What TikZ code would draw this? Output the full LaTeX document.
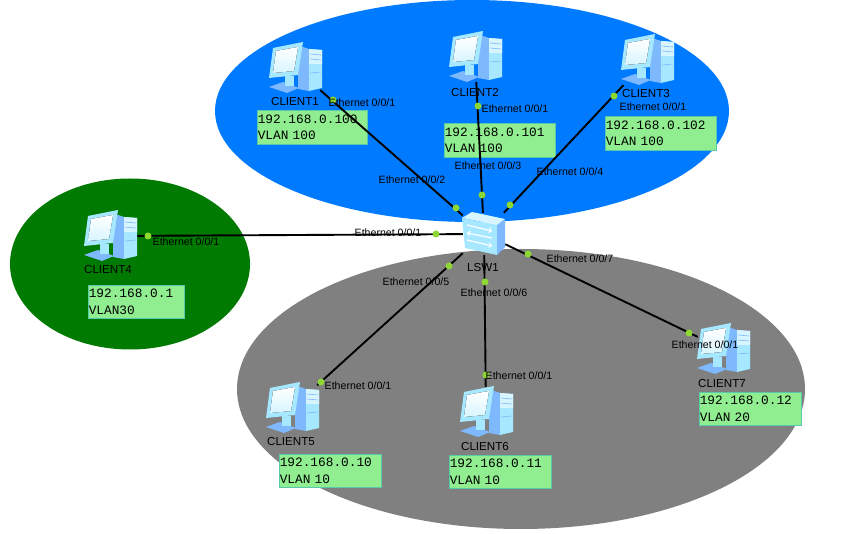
\documentclass[tikz,border=0pt]{standalone}
\usepackage{fontspec}
\setmainfont{Liberation Sans}
\setmonofont{Liberation Mono}
\usetikzlibrary{shapes.geometric,positioning}
\definecolor{vlanblue}{RGB}{0,122,255}
\definecolor{vlangreen}{RGB}{0,122,0}
\definecolor{vlangrey}{RGB}{128,128,128}
\definecolor{boxgreen}{RGB}{144,238,144}
\definecolor{boxedge}{RGB}{90,200,170}
\definecolor{portgreen}{RGB}{140,215,50}
\definecolor{iconlight}{RGB}{215,245,255}
\definecolor{iconmid}{RGB}{165,232,255}
\definecolor{icondark}{RGB}{125,185,252}
\tikzstyle{zone} = [ellipse, inner sep=0pt]
\tikzstyle{host} = [rectangle, minimum width=50pt, minimum height=50pt, inner sep=0pt]
\tikzstyle{switchbox} = [rectangle, minimum width=42pt, minimum height=42pt, inner sep=0pt]
\tikzstyle{hostname} = [font=\fontsize{11.6}{12}\selectfont, inner sep=0pt]
\tikzstyle{portname} = [font=\fontsize{10.6}{11}\selectfont, inner sep=0pt]
\tikzstyle{portdot} = [circle, fill=portgreen, minimum size=7pt, inner sep=0pt]
\tikzstyle{addr} = [rectangle, fill=boxgreen, draw=boxedge, line width=0.5pt, align=left, inner ysep=0pt, inner xsep=0.5pt, font=\ttfamily\fontsize{12.8}{16.5}\selectfont, anchor=north west]
\tikzstyle{line} = [draw, line width=1.9pt]
\tikzset{
  pc/.pic={
    \fill [icondark] (8,-21) -- (14,-19) -- (14,23) -- (3,21) -- (3,-20) -- cycle;
    \fill [iconmid] (14,-19) -- (27,-18) -- (27,20) -- (14,23) -- cycle;
    \fill [iconlight] (14,-19) -- (27,-18) -- (27,-4) -- (14,-4) -- cycle;
    \draw [icondark, line width=0.6pt] (15,-14) -- (26,-13) (15,-9) -- (26,-8) (15,5) -- (26,4);
    \fill [icondark] (-26,19) -- (-12,14) -- (4,20) -- (-8,25) -- cycle;
    \fill [iconmid] (-10,8) -- (-1,8) -- (-1,18) -- (-10,18) -- cycle;
    \fill [iconmid] (-22,-20) -- (8,-26) -- (3,7) -- (-26,10) -- cycle;
    \fill [shading=axis, top color=white, bottom color=iconlight] (-19,-17) -- (3,-21) -- (-1,3) -- (-22,5) -- cycle;
  },
  lswicon/.pic={
    \fill [iconlight] (-22,-16) -- (-12,-22) -- (21,-15) -- (13,-9) -- cycle;
    \fill [iconmid] (-22,-16) -- (13,-9) -- (13,21) -- (-19,14) -- cycle;
    \fill [icondark] (13,-9) -- (21,-15) -- (21,13) -- (13,21) -- cycle;
    \draw [white, line width=1.2pt, ->] (-17,-9) -- (8,-3);
    \draw [white, line width=1.2pt, <-] (-17,-1) -- (8,4);
    \draw [white, line width=1.2pt, ->] (-17,6) -- (8,12);
  }
}
\begin{document}
\begin{tikzpicture}[x=1pt, y=-1pt]
\useasboundingbox (0,0) rectangle (844,534);
\node [zone, fill=vlanblue, minimum width=514pt, minimum height=222pt] (vlan100) at (472,111) {};
\node [zone, fill=vlangreen, minimum width=240pt, minimum height=171pt] (vlan30) at (130,264) {};
\node [zone, fill=vlangrey, minimum width=568pt, minimum height=280pt] (vlan10) at (521,389) {};
\node [addr, text width=109pt, minimum height=34pt] (addr1) at (257,110) {192.168.0.100\\VLAN 100};
\node [addr, text width=110pt, minimum height=34pt] (addr2) at (444,123) {192.168.0.101\\VLAN 100};
\node [addr, text width=110pt, minimum height=34pt] (addr3) at (605,116) {192.168.0.102\\VLAN 100};
\node [addr, text width=95pt, minimum height=33pt] (addr4) at (88,285) {192.168.0.1\\VLAN30};
\node [addr, text width=101pt, minimum height=33pt] (addr5) at (279,454) {192.168.0.10\\VLAN 10};
\node [addr, text width=101pt, minimum height=33pt] (addr6) at (449,455) {192.168.0.11\\VLAN 10};
\node [addr, text width=101pt, minimum height=33pt] (addr7) at (699,392) {192.168.0.12\\VLAN 20};
\node [switchbox] (lsw1) at (484,234) {};
\node [host] (client1) at (295,68) {};
\node [host] (client2) at (475,57) {};
\node [host] (client3) at (647,60) {};
\node [host] (client4) at (110,236) {};
\node [host] (client5) at (292,408) {};
\node [host] (client6) at (486,412) {};
\node [host] (client7) at (723,349) {};
\path [line] (client1) -- (lsw1);
\path [line] (client2) -- (lsw1);
\path [line] (client3) -- (lsw1);
\path [line] (client4) -- (lsw1);
\path [line] (client5) -- (lsw1);
\path [line] (client6) -- (lsw1);
\path [line] (client7) -- (lsw1);
\pic at (lsw1) {lswicon};
\pic at (client1) {pc};
\pic at (client2) {pc};
\pic at (client3) {pc};
\pic at (client4) {pc};
\pic at (client5) {pc};
\pic at (client6) {pc};
\pic at (client7) {pc};
\node [portdot] (dot1) at (333,100) {};
\node [portdot] (dot2) at (478,106) {};
\node [portdot] (dot3) at (614,96) {};
\node [portdot] (dot4) at (148,236) {};
\node [portdot] (dot5) at (321,382) {};
\node [portdot] (dot6) at (486,375) {};
\node [portdot] (dot7) at (689,333) {};
\node [portdot] (sw2) at (456,208) {};
\node [portdot] (sw3) at (482,195) {};
\node [portdot] (sw4) at (510,205) {};
\node [portdot] (sw1) at (436,234) {};
\node [portdot] (sw5) at (449,266) {};
\node [portdot] (sw6) at (485,282) {};
\node [portdot] (sw7) at (528,254) {};
\node [hostname] (name1) at (295,102) {CLIENT1};
\node [hostname] (name2) at (475,93) {CLIENT2};
\node [hostname] (name3) at (646,94) {CLIENT3};
\node [hostname] (name4) at (108,270) {CLIENT4};
\node [hostname] (name5) at (291,442) {CLIENT5};
\node [hostname] (name6) at (485,447) {CLIENT6};
\node [hostname] (name7) at (722,384) {CLIENT7};
\node [hostname] (namesw) at (483,268) {LSW1};
\node [portname] (eth1) at (362,103) {Ethernet 0/0/1};
\node [portname] (eth2) at (515,109) {Ethernet 0/0/1};
\node [portname] (eth3) at (653,107) {Ethernet 0/0/1};
\node [portname] (eth4) at (186,242) {Ethernet 0/0/1};
\node [portname] (eth5) at (358,386) {Ethernet 0/0/1};
\node [portname] (eth6) at (519,376) {Ethernet 0/0/1};
\node [portname] (eth7) at (705,345) {Ethernet 0/0/1};
\node [portname] (swp1) at (388,233) {Ethernet 0/0/1};
\node [portname] (swp2) at (412,180) {Ethernet 0/0/2};
\node [portname] (swp3) at (488,166) {Ethernet 0/0/3};
\node [portname] (swp4) at (570,172) {Ethernet 0/0/4};
\node [portname] (swp5) at (416,282) {Ethernet 0/0/5};
\node [portname] (swp6) at (494,293) {Ethernet 0/0/6};
\node [portname] (swp7) at (580,259) {Ethernet 0/0/7};
\end{tikzpicture}
\end{document}
